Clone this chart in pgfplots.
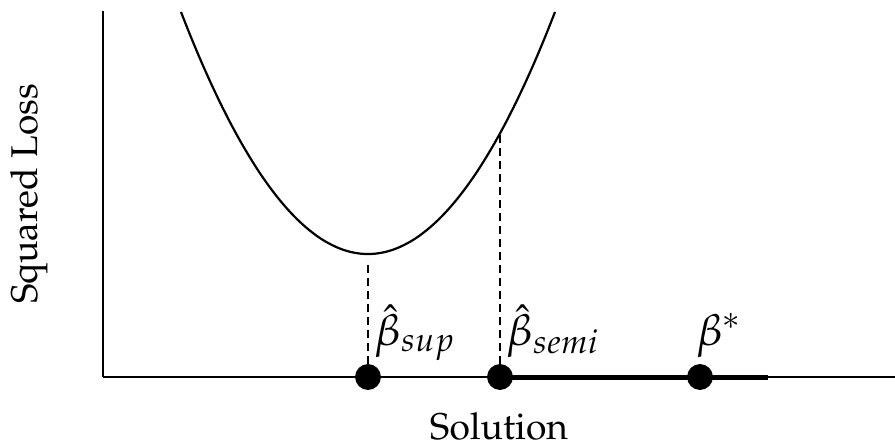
\documentclass[border=0pt]{standalone}
\usepackage[T1]{fontenc}
\usepackage{mathpazo}
\usepackage{pgfplots}
\pgfplotsset{compat=1.18}
\usetikzlibrary{calc}

\begin{document}
\begin{tikzpicture}
\begin{axis}[scale only axis,width=396pt,height=183pt,
  xmin=103,xmax=895,ymin=0,ymax=366,
  axis lines=left,axis line style={-,line width=0.7pt},
  xtick=\empty,ytick=\empty,clip=false,
  xlabel={Solution},ylabel={Squared Loss},
  label style={font=\fontsize{18.6}{22}\selectfont},
  xlabel style={at={(axis description cs:0.5,-0.172)},anchor=base},
  ylabel style={at={(axis description cs:-0.0833,0.5)},anchor=base}]
% admissible region on the axis
\addplot[line width=2.5pt,black] coordinates {(500,0) (768,0)};
% drop lines
\addplot[line width=1pt,dash pattern=on 4pt off 2.5pt] coordinates {(368,0) (368,117)};
\addplot[line width=1pt,dash pattern=on 4pt off 2.5pt] coordinates {(500,0) (500,243.6)};
% loss curve
\addplot[smooth,line width=1.1pt,black] coordinates {
  (181,365.0) (190,342.3) (200,318.3) (210,295.8) (220,274.6) (230,254.8)
  (240,236.4) (250,219.4) (260,203.7) (270,189.5) (280,176.6) (290,165.1)
  (300,155.0) (310,146.3) (320,138.9) (330,133.0) (340,128.4) (350,125.2)
  (360,123.4) (368,123.0) (376,123.4) (386,125.2) (396,128.4) (406,133.0)
  (416,138.9) (426,146.3) (436,155.0) (446,165.1) (456,176.6) (466,189.5)
  (476,203.7) (486,219.4) (496,236.4) (506,254.8) (516,274.6) (526,295.8)
  (536,318.3) (546,342.3) (555,365.0)};
% solutions
\addplot[only marks,mark=*,mark size=6.25pt,black] coordinates {(368,0) (500,0) (700,0)};
\node[anchor=base west,font=\fontsize{22}{26}\selectfont,inner sep=0pt] at (axis cs:374,32) {$\hat{\beta}_{sup}$};
\node[anchor=base west,font=\fontsize{22}{26}\selectfont,inner sep=0pt] at (axis cs:506,32) {$\hat{\beta}_{semi}$};
\node[anchor=base west,font=\fontsize{22}{26}\selectfont,inner sep=0pt] at (axis cs:696,32) {$\beta^{*}$};
\coordinate (bl) at (rel axis cs:0,0);
\end{axis}
\pgfresetboundingbox
\path ($(bl)+(-51.5pt,-34pt)$) rectangle ($(bl)+(396pt,188.5pt)$);
\end{tikzpicture}
\end{document}
